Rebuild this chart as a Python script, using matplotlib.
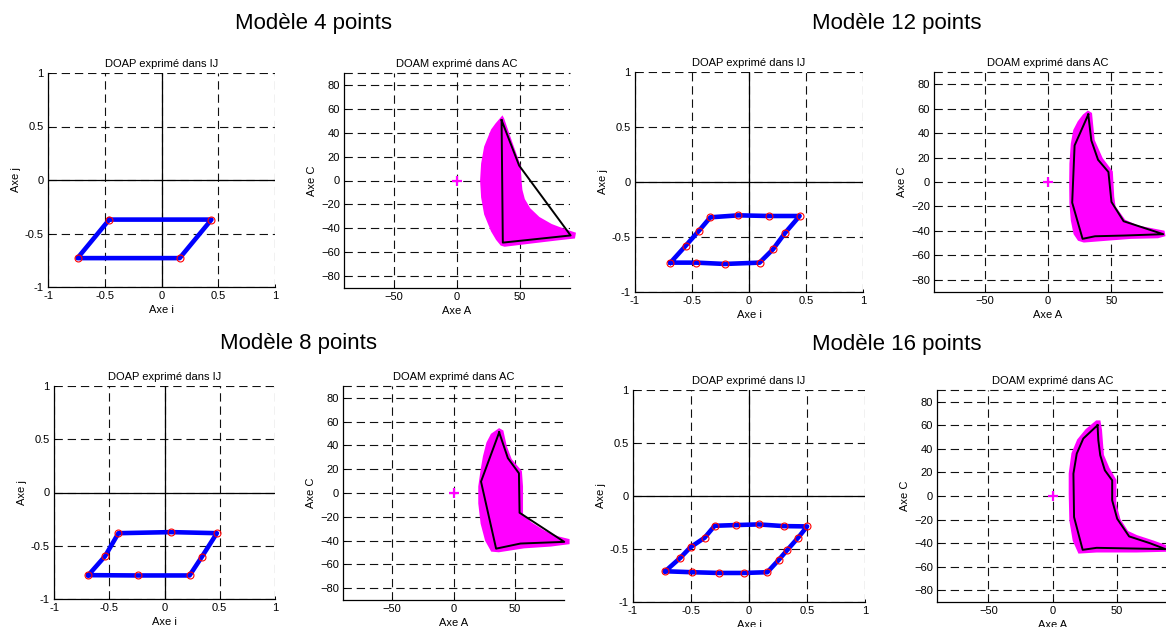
import matplotlib
matplotlib.use("Agg")
import matplotlib.pyplot as plt

plt.rcParams['font.family'] = ['Liberation Sans', 'DejaVu Sans']
plt.rcParams['lines.scale_dashes'] = False

W, H = 1166, 627

# ---------------- data ----------------
group_titles = ["Modèle 4 points", "Modèle 12 points", "Modèle 8 points", "Modèle 16 points"]
doap_title = "DOAP exprimé dans IJ"
doam_title = "DOAM exprimé dans AC"

doap_ticks = [-1, -0.5, 0, 0.5, 1]
doap_ticklabels = ["-1", "-0.5", "0", "0.5", "1"]
doam_xticks = [-50, 0, 50]
doam_yticks = [-80, -60, -40, -20, 0, 20, 40, 60, 80]

# DOAP polygons (axe i, axe j)
doap4_i = [-0.46, 0.44, 0.16, -0.74]
doap4_j = [-0.37, -0.37, -0.73, -0.73]

doap12_i = [-0.689, -0.461, -0.213, 0.093, 0.210, 0.318, 0.444, 0.172, -0.093, -0.339, -0.438, -0.555]
doap12_j = [-0.733, -0.733, -0.745, -0.733, -0.612, -0.461, -0.309, -0.309, -0.303, -0.321, -0.442, -0.579]

doap8_i = [-0.689, -0.236, 0.227, 0.338, 0.474, 0.060, -0.417, -0.538]
doap8_j = [-0.776, -0.779, -0.779, -0.604, -0.382, -0.372, -0.382, -0.598]

doap16_i = [-0.722, -0.492, -0.262, -0.043, 0.158, 0.256, 0.331, 0.423, 0.501, 0.299, 0.083, -0.109, -0.296, -0.383, -0.504, -0.593]
doap16_j = [-0.710, -0.719, -0.726, -0.726, -0.719, -0.603, -0.508, -0.394, -0.287, -0.284, -0.268, -0.274, -0.281, -0.394, -0.483, -0.584]

# DOAM black outlines (axe A, axe C)
doam4_a = [35.5, 49.5, 90.5, 36.5]
doam4_c = [50.5, 12.5, -46.0, -52.0]

doam12_a = [31.8, 34.2, 39.5, 47.7, 50.1, 59.7, 91.0, 60.0, 37.1, 27.3, 19.1, 21.0]
doam12_c = [55.2, 34.0, 18.2, 8.2, -16.3, -32.1, -42.7, -43.8, -44.4, -46.5, -16.9, 29.9]

doam8_a = [37.2, 44.3, 53.3, 53.8, 90.2, 54.6, 34.7, 22.4]
doam8_c = [51.0, 29.3, 16.6, -16.6, -41.1, -42.5, -46.8, 9.6]

doam16_a = [35.1, 35.7, 37.2, 40.8, 46.5, 46.5, 50.4, 59.7, 75.7, 88.0, 34.4, 23.5, 16.8, 16.3, 18.9, 24.0]
doam16_c = [60.1, 47.4, 34.6, 21.8, 13.3, -3.7, -19.3, -34.3, -40.0, -45.1, -44.0, -45.7, -17.9, 19.0, 36.0, 48.8]

# DOAM magenta reachable regions (axe A, axe C)
zone4_a = [36.0, 31.5, 28.1, 22.7, 20.3, 19.5, 20.3, 22.7, 28.1, 32.0, 35.5, 38.0, 60.0, 80.0, 93.0,
           93.5, 85.0, 75.0, 65.0, 57.5, 53.0, 51.0, 50.3, 49.5, 42.8, 36.5]
zone4_c = [52.5, 47.0, 42.1, 28.1, 14.0, 0.0, -14.0, -28.1, -42.1, -49.0, -53.5, -54.3, -51.5, -49.0, -47.5,
           -44.5, -41.5, -37.5, -31.5, -24.0, -16.0, -8.0, 0.0, 12.6, 32.3, 51.5]

zone12_a = [31.6, 28.4, 24.4, 21.0, 19.1, 18.0, 17.8, 18.0, 19.1, 21.2, 24.4, 28.4, 44.3, 65.5, 86.7,
            91.5, 91.0, 70.8, 60.2, 52.3, 51.2, 50.1, 42.2, 35.8, 33.7]
zone12_c = [57.1, 54.4, 49.0, 42.2, 31.3, 15.0, -1.4, -17.7, -31.3, -42.2, -47.1, -48.4, -47.1, -45.4, -44.9,
            -43.5, -40.8, -36.7, -31.8, -20.4, -12.2, 8.2, 19.0, 34.0, 55.8]

zone8_a = [37.2, 31.4, 27.9, 25.1, 23.2, 21.3, 21.3, 23.2, 26.8, 31.4, 36.9, 57.4, 79.2, 93.4,
           93.4, 84.7, 73.8, 62.8, 55.5, 55.5, 54.6, 46.4, 42.3, 39.6]
zone8_c = [53.2, 49.0, 42.0, 30.7, 19.4, 5.4, -8.7, -25.6, -39.7, -48.2, -48.7, -45.4, -43.9, -42.0,
           -39.7, -37.5, -32.7, -25.6, -18.0, 5.4, 18.0, 27.9, 39.2, 51.8]

zone16_a = [34.4, 26.6, 20.2, 15.8, 13.7, 13.7, 14.2, 16.8, 20.9, 34.4, 65.4, 88.1,
            88.1, 78.3, 65.4, 58.1, 51.9, 48.6, 48.8, 43.4, 39.0, 37.5, 36.4]
zone16_c = [63.0, 55.9, 47.4, 36.0, 19.0, 2.0, -20.7, -37.7, -47.7, -46.8, -46.8, -46.2,
            -42.8, -38.9, -34.3, -30.6, -20.1, -6.5, 13.3, 23.3, 34.6, 55.9, 63.0]

# ---------------- layout (pixel boxes: left, top, right, bottom) ----------------
boxes = {
    "doap4": (48, 73, 275, 287), "doam4": (344, 73, 570, 288),
    "doap12": (635, 72, 863, 292), "doam12": (934, 72, 1162, 292),
    "doap8": (54, 386, 275, 599), "doam8": (343, 386, 564, 600),
    "doap16": (633, 390, 865, 602), "doam16": (937, 390, 1168, 602),
}
title_pos = [(314, 29), (897, 29), (299, 349), (897, 350)]

FS = 8
GRID_LS = (0, (6, 3.5))


def make_axes(fig, key):
    x0, y0, x1, y1 = boxes[key]
    return fig.add_axes([x0 / W, 1 - y1 / H, (x1 - x0) / W, (y1 - y0) / H])


def style(ax):
    ax.set_axisbelow(True)
    ax.grid(True, linestyle=GRID_LS, color='#111111', lw=0.8)
    ax.spines['top'].set_visible(False)
    ax.spines['right'].set_visible(False)
    for s in ('left', 'bottom'):
        ax.spines[s].set_linewidth(0.9)
    ax.tick_params(direction='in', length=2.5, width=0.7, labelsize=FS, pad=3)


def draw_doap(ax, xi, yj):
    style(ax)
    ax.set_xlim(-1, 1)
    ax.set_ylim(-1, 1)
    ax.set_xticks(doap_ticks)
    ax.set_xticklabels(doap_ticklabels)
    ax.set_yticks(doap_ticks)
    ax.set_yticklabels(doap_ticklabels)
    ax.axhline(0, color='k', lw=0.9, zorder=1.5)
    ax.axvline(0, color='k', lw=0.9, zorder=1.5)
    ax.plot(list(xi) + [xi[0]], list(yj) + [yj[0]], color='#0000ff', lw=3.3,
            solid_joinstyle='round', zorder=3)
    ax.plot(xi, yj, 'o', ms=5, mfc='none', mec='red', mew=0.8, zorder=4)
    ax.set_title(doap_title, fontsize=FS, pad=4)
    ax.set_xlabel("Axe i", fontsize=FS, labelpad=3)
    ax.set_ylabel("Axe j", fontsize=FS, labelpad=3)


def draw_doam(ax, za, zc, pa, pc):
    style(ax)
    ax.set_xlim(-90, 90)
    ax.set_ylim(-90, 90)
    ax.set_xticks(doam_xticks)
    ax.set_yticks(doam_yticks)
    ax.axhline(90, linestyle=GRID_LS, color='#111111', lw=0.8, clip_on=False)
    ax.fill(za, zc, facecolor='#ff00ff', edgecolor='#ff00ff', lw=2.0, zorder=2, clip_on=False)
    ax.plot(list(pa) + [pa[0]], list(pc) + [pc[0]], color='k', lw=1.4, zorder=3, clip_on=False)
    ax.plot([0], [0], '+', color='#ff00ff', ms=7, mew=1.6, zorder=3)
    ax.set_title(doam_title, fontsize=FS, pad=4)
    ax.set_xlabel("Axe A", fontsize=FS, labelpad=3)
    ax.set_ylabel("Axe C", fontsize=FS, labelpad=3)


fig = plt.figure(figsize=(W / 100, H / 100), dpi=100)

draw_doap(make_axes(fig, "doap4"), doap4_i, doap4_j)
draw_doam(make_axes(fig, "doam4"), zone4_a, zone4_c, doam4_a, doam4_c)
draw_doap(make_axes(fig, "doap12"), doap12_i, doap12_j)
draw_doam(make_axes(fig, "doam12"), zone12_a, zone12_c, doam12_a, doam12_c)
draw_doap(make_axes(fig, "doap8"), doap8_i, doap8_j)
draw_doam(make_axes(fig, "doam8"), zone8_a, zone8_c, doam8_a, doam8_c)
draw_doap(make_axes(fig, "doap16"), doap16_i, doap16_j)
draw_doam(make_axes(fig, "doam16"), zone16_a, zone16_c, doam16_a, doam16_c)

for (tx, ty), t in zip(title_pos, group_titles):
    fig.text(tx / W, 1 - ty / H, t, ha='center', va='baseline', fontsize=16)

fig.savefig("out.png", dpi=100, facecolor='white')
